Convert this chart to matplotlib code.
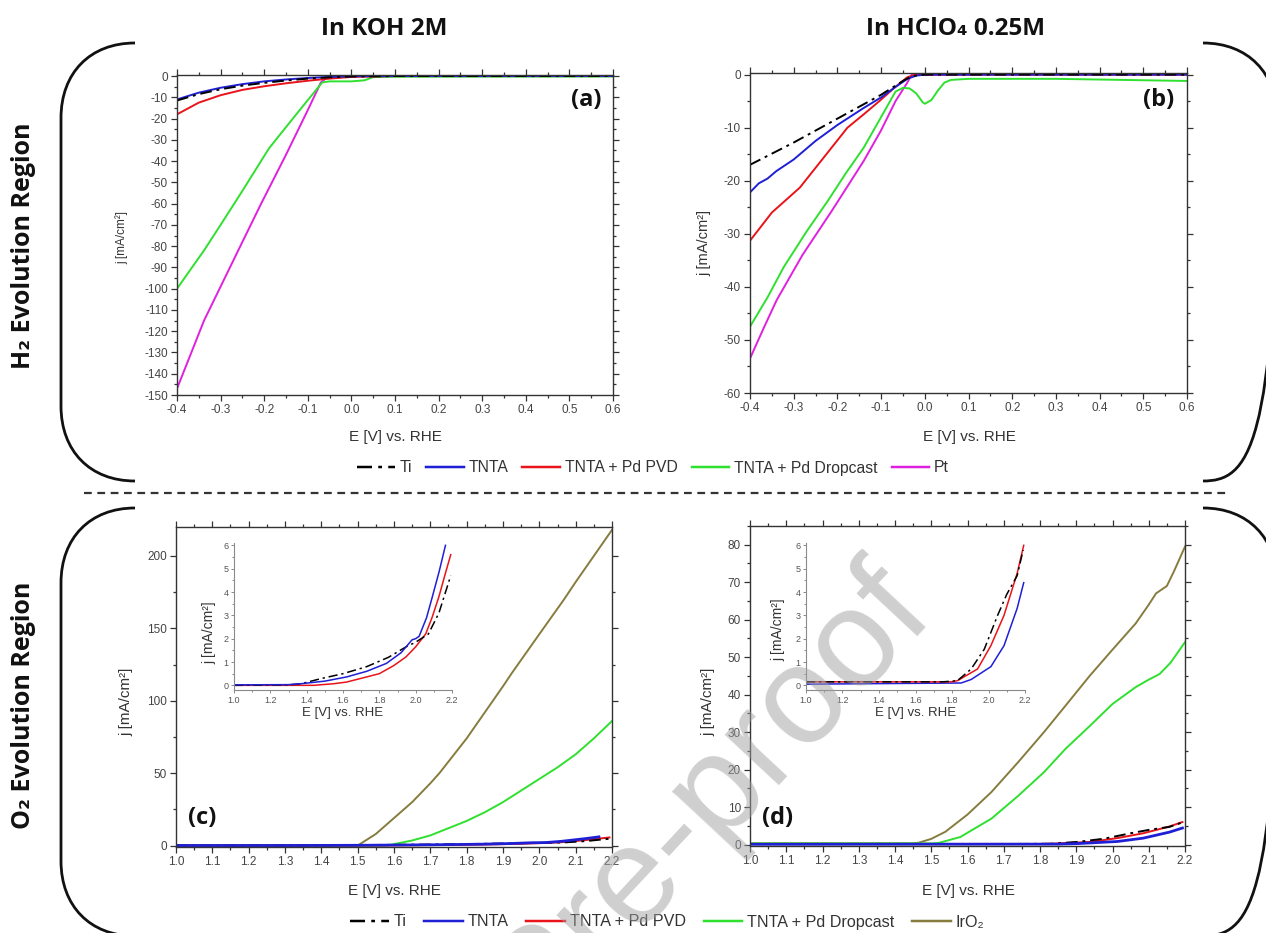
import numpy as np
import matplotlib
matplotlib.use("Agg")
import matplotlib.pyplot as plt
from matplotlib.lines import Line2D
from matplotlib.path import Path
from matplotlib.patches import PathPatch
from matplotlib.ticker import MultipleLocator

plt.rcParams['font.family'] = ['Liberation Sans', 'DejaVu Sans']
plt.rcParams['axes.unicode_minus'] = False

# ---------------- data ----------------
# (a) HER in KOH 2M
a_E_ti = [-0.4, -0.35, -0.3, -0.25, -0.2, -0.15, -0.1, -0.05, 0.0, 0.1, 0.6]
a_j_ti = [-11.5, -8.5, -6.2, -4.5, -3.2, -2.1, -1.2, -0.6, -0.2, 0.0, 0.0]
a_E_tnta = [-0.4, -0.35, -0.3, -0.25, -0.2, -0.15, -0.1, -0.05, 0.0, 0.1, 0.6]
a_j_tnta = [-11.0, -7.8, -5.5, -3.8, -2.5, -1.6, -0.9, -0.4, -0.1, 0.0, 0.0]
a_E_pvd = [-0.4, -0.35, -0.3, -0.25, -0.2, -0.15, -0.1, -0.05, 0.0, 0.1, 0.6]
a_j_pvd = [-18.0, -12.5, -9.0, -6.5, -4.8, -3.4, -2.2, -1.2, -0.4, 0.0, 0.0]
a_E_drop = [-0.4, -0.338, -0.3, -0.25, -0.189, -0.15, -0.1, -0.067, -0.05, 0.0, 0.03, 0.05, 0.1, 0.6]
a_j_drop = [-100, -82, -70, -54, -34, -24, -11.3, -3, -2.5, -2.5, -2.0, -0.5, -0.3, -0.2]
a_E_pt = [-0.4, -0.338, -0.3, -0.25, -0.207, -0.15, -0.1, -0.07, -0.055, 0.0, 0.6]
a_j_pt = [-147, -115, -99, -78, -60, -37, -16, -3, -0.5, 0.0, 0.0]

# (b) HER in HClO4 0.25M
b_E_ti = [-0.4, -0.3, -0.2, -0.1, -0.05, -0.03, 0.0, 0.6]
b_j_ti = [-17.0, -12.8, -8.3, -3.8, -1.2, -0.3, 0.0, 0.0]
b_E_tnta = [-0.4, -0.38, -0.36, -0.34, -0.3, -0.25, -0.2, -0.14, -0.1, -0.07, -0.04, -0.02, 0.0, 0.6]
b_j_tnta = [-22.2, -20.5, -19.6, -18.2, -16.0, -12.5, -9.5, -6.3, -4.3, -2.5, -0.8, -0.2, 0.0, 0.0]
b_E_pvd = [-0.4, -0.35, -0.286, -0.23, -0.177, -0.14, -0.104, -0.07, -0.04, -0.02, 0.6]
b_j_pvd = [-31.3, -26.0, -21.3, -15.5, -10.0, -7.5, -5.0, -2.5, -0.5, 0.0, 0.0]
b_E_drop = [-0.4, -0.36, -0.323, -0.27, -0.222, -0.18, -0.14, -0.1, -0.067, -0.05, -0.035,
            -0.02, -0.005, 0.0, 0.015, 0.03, 0.045, 0.06, 0.1, 0.3, 0.45, 0.6]
b_j_drop = [-47.5, -42.0, -36.3, -29.5, -23.8, -18.5, -13.8, -8.0, -3.2, -2.5, -2.6,
            -3.5, -5.2, -5.5, -4.8, -3.0, -1.5, -1.0, -0.8, -0.8, -1.0, -1.2]
b_E_pt = [-0.4, -0.37, -0.339, -0.28, -0.213, -0.14, -0.1, -0.067, -0.04, -0.03, 0.6]
b_j_pt = [-53.5, -48.0, -42.5, -34.0, -25.7, -16.3, -10.5, -5.0, -1.5, 0.0, 0.0]

# (c) OER in KOH 2M (low-current curves shared with inset)
c_E_ti = [1.0, 1.3, 1.37, 1.48, 1.6, 1.73, 1.85, 1.947, 2.0, 2.07, 2.128, 2.193]
c_j_ti = [0.0, 0.02, 0.07, 0.29, 0.5, 0.8, 1.2, 1.65, 1.85, 2.2, 3.1, 4.7]
c_E_tnta = [1.0, 1.3, 1.37, 1.5, 1.62, 1.73, 1.839, 1.92, 1.98, 2.0, 2.019, 2.06, 2.092, 2.13, 2.164]
c_j_tnta = [0.02, 0.03, 0.07, 0.18, 0.36, 0.6, 0.94, 1.4, 1.95, 2.0, 2.1, 2.9, 3.8, 4.9, 6.0]
c_E_pvd = [1.0, 1.44, 1.55, 1.62, 1.7, 1.8, 1.88, 1.947, 2.0, 2.055, 2.09, 2.128, 2.16, 2.193]
c_j_pvd = [0.0, 0.0, 0.07, 0.14, 0.3, 0.5, 0.85, 1.22, 1.65, 2.2, 2.9, 3.8, 4.7, 5.6]
c_E_drop = [1.0, 1.58, 1.65, 1.7, 1.75, 1.8, 1.85, 1.9, 1.95, 2.0, 2.05, 2.1, 2.15, 2.2]
c_j_drop = [0.0, 0.0, 3.5, 7.0, 12.0, 17.0, 23.0, 30.0, 38.0, 46.0, 54.0, 63.0, 74.0, 86.0]
c_E_iro2 = [1.0, 1.5, 1.55, 1.6, 1.65, 1.7, 1.725, 1.8, 1.85, 1.9, 1.924, 2.0, 2.068, 2.1, 2.15, 2.2]
c_j_iro2 = [0.0, 0.0, 8, 19, 30, 43, 50, 74, 92, 110, 119, 146, 170, 182, 200, 218]

# (d) OER in HClO4 0.25M
d_E_ti = [1.0, 1.75, 1.83, 1.905, 1.977, 2.05, 2.1, 2.157, 2.19]
d_j_ti = [0.15, 0.15, 0.2, 0.7, 1.55, 3.0, 3.9, 4.7, 5.8]
d_E_tnta = [1.0, 1.85, 1.905, 2.013, 2.085, 2.157, 2.193]
d_j_tnta = [0.05, 0.1, 0.25, 0.8, 1.7, 3.3, 4.4]
d_E_pvd = [1.0, 1.8, 1.83, 1.94, 2.013, 2.085, 2.157, 2.193]
d_j_pvd = [0.15, 0.15, 0.2, 0.7, 1.7, 3.0, 4.8, 6.0]
d_E_drop = [1.0, 1.5, 1.52, 1.58, 1.666, 1.74, 1.811, 1.87, 1.937, 2.0, 2.064, 2.1, 2.13, 2.16, 2.2]
d_j_drop = [0.3, 0.3, 0.4, 2.0, 6.9, 13.0, 19.3, 25.5, 31.6, 37.5, 42.0, 44.0, 45.5, 48.5, 54.0]
d_E_iro2 = [1.0, 1.45, 1.466, 1.5, 1.539, 1.6, 1.666, 1.74, 1.811, 1.87, 1.937, 2.0, 2.064,
            2.1, 2.12, 2.15, 2.17, 2.2]
d_j_iro2 = [0.3, 0.3, 0.5, 1.5, 3.4, 8.0, 14.0, 22.0, 30.0, 37.0, 45.0, 52.0, 59.0,
            64.0, 67.0, 69.0, 73.0, 79.5]

her_labels = ["Ti", "TNTA", "TNTA + Pd PVD", "TNTA + Pd Dropcast", "Pt"]
oer_labels = ["Ti", "TNTA", "TNTA + Pd PVD", "TNTA + Pd Dropcast", "IrO\u2082"]
col_titles = ["In KOH 2M", "In HClO\u2084 0.25M"]
row_titles = ["H\u2082 Evolution Region", "O\u2082 Evolution Region"]
panel_tags = ["(a)", "(b)", "(c)", "(d)"]

# ---------------- style ----------------
C_TI, C_TNTA, C_PVD, C_DROP, C_PT, C_IR = 'black', '#1f1fd6', '#e8141a', '#2fe02f', '#e020e0', '#867c3e'
TI_LS = (0, (6, 2.5, 1.5, 2.5))
LW = 1.4
W, H = 1266, 933
fig = plt.figure(figsize=(W / 100, H / 100), dpi=100)
fig.patch.set_facecolor('white')

def rect(l, t, r, b):
    return [l / W, 1 - b / H, (r - l) / W, (b - t) / H]

def fp(x, y):
    return (x / W, 1 - y / H)

def style_main(ax, xmaj, xmin, ymaj, ymin, fmt):
    for s in ax.spines.values():
        s.set_color('#333333')
        s.set_linewidth(1.0)
    ax.xaxis.set_major_locator(MultipleLocator(xmaj))
    ax.xaxis.set_minor_locator(MultipleLocator(xmin))
    ax.yaxis.set_major_locator(MultipleLocator(ymaj))
    ax.yaxis.set_minor_locator(MultipleLocator(ymin))
    ax.tick_params(which='both', direction='out', top=True, right=True,
                   colors='#333333', labelsize=8.5, labelcolor='#444444', width=0.9)
    ax.tick_params(which='major', length=4.5, pad=2)
    ax.tick_params(which='minor', length=2.5)
    ax.xaxis.set_major_formatter(matplotlib.ticker.FormatStrFormatter(fmt))

def style_inset(ax):
    for k in ['top', 'right']:
        ax.spines[k].set_visible(False)
    for k in ['left', 'bottom']:
        ax.spines[k].set_color('#8a8a8a')
        ax.spines[k].set_linewidth(0.8)
    ax.set_xlim(1.0, 2.2)
    ax.set_ylim(-0.2, 6.1)
    ax.xaxis.set_major_locator(MultipleLocator(0.2))
    ax.xaxis.set_minor_locator(MultipleLocator(0.1))
    ax.yaxis.set_major_locator(MultipleLocator(1))
    ax.yaxis.set_minor_locator(MultipleLocator(0.5))
    ax.xaxis.set_major_formatter(matplotlib.ticker.FormatStrFormatter('%.1f'))
    ax.tick_params(which='both', direction='out', colors='#8a8a8a',
                   labelsize=6.5, labelcolor='#555555', width=0.7)
    ax.tick_params(which='major', length=2.5, pad=1.5)
    ax.tick_params(which='minor', length=1.5)
    ax.patch.set_alpha(0)

# ---------------- panel (a) ----------------
axA = fig.add_axes(rect(177, 75, 613, 395))
axA.plot(a_E_pt, a_j_pt, color=C_PT, lw=LW)
axA.plot(a_E_drop, a_j_drop, color=C_DROP, lw=LW)
axA.plot(a_E_pvd, a_j_pvd, color=C_PVD, lw=LW)
axA.plot(a_E_tnta, a_j_tnta, color=C_TNTA, lw=LW)
axA.plot(a_E_ti, a_j_ti, color=C_TI, lw=LW, ls=TI_LS)
axA.set_xlim(-0.4, 0.6)
axA.set_ylim(-150, 0.5)
style_main(axA, 0.1, 0.05, 10, 5, '%.1f')

# ---------------- panel (b) ----------------
axB = fig.add_axes(rect(750, 73, 1187, 393))
axB.plot(b_E_pt, b_j_pt, color=C_PT, lw=LW)
axB.plot(b_E_drop, b_j_drop, color=C_DROP, lw=LW)
axB.plot(b_E_pvd, b_j_pvd, color=C_PVD, lw=LW)
axB.plot(b_E_tnta, b_j_tnta, color=C_TNTA, lw=LW)
axB.plot(b_E_ti, b_j_ti, color=C_TI, lw=LW, ls=TI_LS)
axB.set_xlim(-0.4, 0.6)
axB.set_ylim(-60, 0.3)
style_main(axB, 0.1, 0.05, 10, 5, '%.1f')

# ---------------- panel (c) ----------------
axC = fig.add_axes(rect(176, 527, 612, 847))
axC.plot(c_E_iro2, c_j_iro2, color=C_IR, lw=LW)
axC.plot(c_E_drop, c_j_drop, color=C_DROP, lw=LW)
axC.plot(c_E_pvd, c_j_pvd, color=C_PVD, lw=LW)
axC.plot(c_E_ti, c_j_ti, color=C_TI, lw=LW, ls=TI_LS)
axC.plot(c_E_tnta, c_j_tnta, color=C_TNTA, lw=LW + 0.6)
axC.set_xlim(1.0, 2.2)
axC.set_ylim(-1, 220)
style_main(axC, 0.1, 0.05, 50, 25, '%.1f')

# ---------------- panel (d) ----------------
axD = fig.add_axes(rect(750, 526, 1185, 846))
axD.plot(d_E_iro2, d_j_iro2, color=C_IR, lw=LW)
axD.plot(d_E_drop, d_j_drop, color=C_DROP, lw=LW)
axD.plot(d_E_pvd, d_j_pvd, color=C_PVD, lw=LW)
axD.plot(d_E_ti, d_j_ti, color=C_TI, lw=LW, ls=TI_LS)
axD.plot(d_E_tnta, d_j_tnta, color=C_TNTA, lw=LW + 0.6)
axD.set_xlim(1.0, 2.2)
axD.set_ylim(-0.4, 85)
style_main(axD, 0.1, 0.05, 10, 5, '%.1f')

# ---------------- insets ----------------
inC = fig.add_axes(rect(234, 543, 452, 690))
inC.plot(c_E_pvd, c_j_pvd, color=C_PVD, lw=1.1)
inC.plot(c_E_ti, c_j_ti, color=C_TI, lw=1.1, ls=TI_LS)
inC.plot(c_E_tnta, c_j_tnta, color=C_TNTA, lw=1.1)
style_inset(inC)

inD = fig.add_axes(rect(806, 543, 1025, 690))
inD.plot(d_E_tnta, d_j_tnta, color=C_TNTA, lw=1.1)
inD.plot(d_E_pvd, d_j_pvd, color=C_PVD, lw=1.1)
inD.plot(d_E_ti, d_j_ti, color=C_TI, lw=1.1, ls=TI_LS)
style_inset(inD)

# axis labels
lab = dict(color='#333333', ha='center', va='center')
for cx, cy in [(395, 437), (969, 437), (394, 891), (968, 891)]:
    fig.text(*fp(cx, cy), "E [V] vs. RHE", fontsize=11, **lab)
for cx, cy in [(343, 713), (916, 713)]:
    fig.text(*fp(cx, cy), "E [V] vs. RHE", fontsize=9.5, **lab)
fig.text(*fp(122, 237), "j [mA/cm\u00b2]", fontsize=8.5, rotation=90, **lab)
fig.text(*fp(704, 243), "j [mA/cm\u00b2]", fontsize=10.5, rotation=90, **lab)
fig.text(*fp(126, 702), "j [mA/cm\u00b2]", fontsize=11, rotation=90, **lab)
fig.text(*fp(708, 702), "j [mA/cm\u00b2]", fontsize=11, rotation=90, **lab)
fig.text(*fp(209, 633), "j [mA/cm\u00b2]", fontsize=10, rotation=90, **lab)
fig.text(*fp(778, 630), "j [mA/cm\u00b2]", fontsize=10, rotation=90, **lab)

# headings
hfont = dict(family=['Open Sans', 'DejaVu Sans'], fontweight='bold', color='#111111',
             ha='center', va='center')
fig.text(*fp(384, 29), col_titles[0], fontsize=17.5, **hfont)
fig.text(*fp(955, 29), col_titles[1], fontsize=17.5, **hfont)
fig.text(*fp(24, 246), row_titles[0], fontsize=18, rotation=90, **hfont)
fig.text(*fp(24, 705), row_titles[1], fontsize=18, rotation=90, **hfont)
for (cx, cy), t in zip([(586, 100), (1159, 100), (202, 818), (778, 818)], panel_tags):
    fig.text(*fp(cx, cy), t, fontsize=17, **hfont)

# legends
def handles(last_color):
    return [Line2D([], [], color=C_TI, lw=LW + 0.4, ls=TI_LS),
            Line2D([], [], color=C_TNTA, lw=LW + 0.4),
            Line2D([], [], color=C_PVD, lw=LW + 0.4),
            Line2D([], [], color=C_DROP, lw=LW + 0.4),
            Line2D([], [], color=last_color, lw=LW + 0.4)]

legkw = dict(loc='center', ncol=5, frameon=False, handlelength=2.4,
             handletextpad=0.3, borderpad=0, labelcolor='#333333')
fig.legend(handles(C_PT), her_labels, bbox_to_anchor=fp(653, 468), fontsize=11.3,
           columnspacing=0.9, **legkw)
fig.legend(handles(C_IR), oer_labels, bbox_to_anchor=fp(667, 922), fontsize=11.6,
           columnspacing=1.1, **legkw)

# overlay: brackets and separator
ov = fig.add_axes([0, 0, 1, 1], zorder=-1)
ov.set_xlim(0, W)
ov.set_ylim(H, 0)
ov.axis('off')

def bracket(x_end, x_vert, y_top, y_bot, r):
    s = 1 if x_vert < x_end else -1
    verts = [(x_end, y_top), (x_end - s * 0.6 * r, y_top), (x_vert, y_top + 0.4 * r), (x_vert, y_top + r),
             (x_vert, y_bot - r),
             (x_vert, y_bot - 0.4 * r), (x_end - s * 0.6 * r, y_bot), (x_end, y_bot)]
    codes = [Path.MOVETO, Path.CURVE4, Path.CURVE4, Path.CURVE4, Path.LINETO,
             Path.CURVE4, Path.CURVE4, Path.CURVE4]
    ov.add_patch(PathPatch(Path(verts, codes), fill=False, lw=2.0, ec='#111111'))

bracket(135, 61, 43, 481, 75)
bracket(135, 61, 508, 936, 75)
bracket(1203, 1277, 43, 481, 75)
bracket(1203, 1277, 508, 936, 75)
ov.plot([84, 1227], [493, 493], color='#333333', lw=1.6, ls=(0, (3.5, 2.5)))

# watermark
fig.text(*fp(910, 592), "Journal Pre-proof", fontsize=100, rotation=47, rotation_mode='anchor',
         ha='right', va='center', color='#a0a0a0', alpha=0.5, zorder=20,
         family=['Liberation Sans', 'DejaVu Sans'])

fig.savefig('out.png', dpi=100, facecolor='white')
